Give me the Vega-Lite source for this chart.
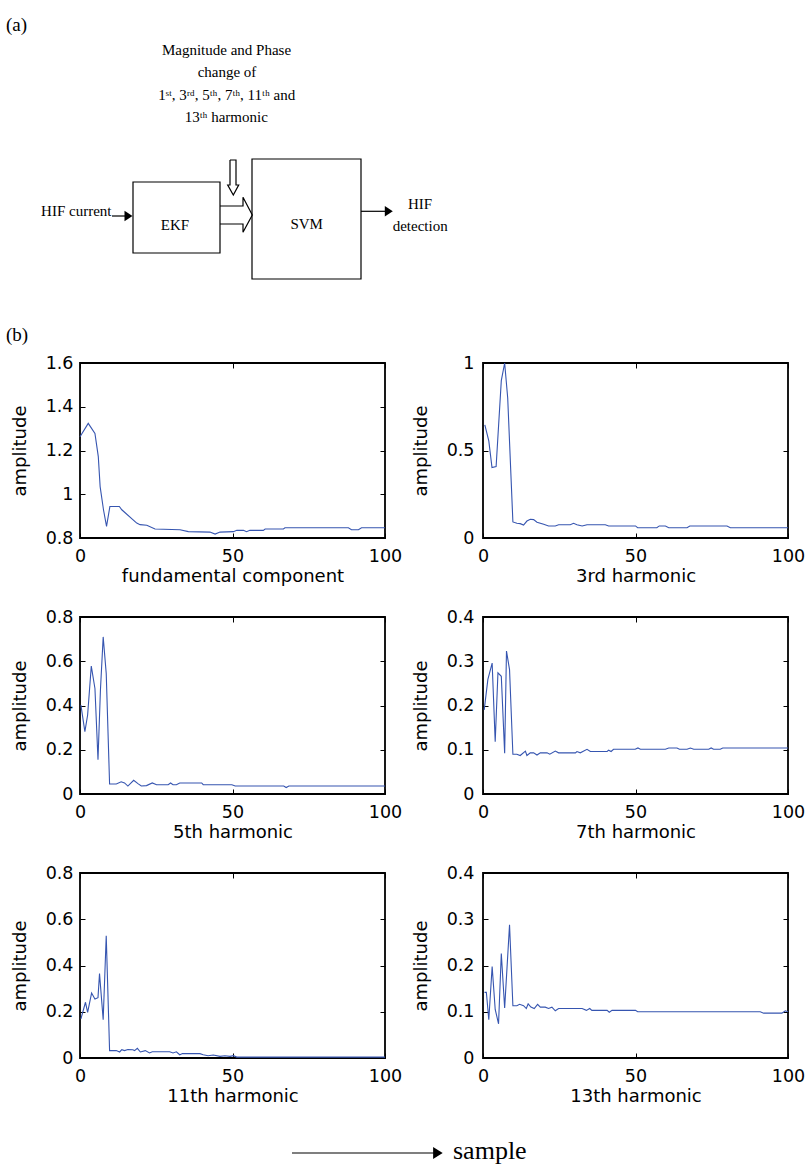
{
  "$schema": "https://vega.github.io/schema/vega-lite/v6.json",
  "padding": {"left": 6, "top": 0, "right": 0, "bottom": 0},
  "background": "white",
  "datasets": {
    "boxes": [
      {"name": "EKF", "x1": 133, "x2": 220, "y1": 182, "y2": 253},
      {"name": "SVM", "x1": 252, "x2": 361, "y1": 159, "y2": 279}
    ],
    "paths": [
      {"part": "in", "i": 0, "x": 112, "y": 216},
      {"part": "in", "i": 1, "x": 125.5, "y": 216},
      {"part": "out", "i": 0, "x": 361, "y": 211.3},
      {"part": "out", "i": 1, "x": 386, "y": 211.3},
      {"part": "big", "i": 0, "x": 220, "y": 206},
      {"part": "big", "i": 1, "x": 243, "y": 206},
      {"part": "big", "i": 2, "x": 243, "y": 197.3},
      {"part": "big", "i": 3, "x": 252.3, "y": 215},
      {"part": "big", "i": 4, "x": 243, "y": 232.3},
      {"part": "big", "i": 5, "x": 243, "y": 224},
      {"part": "big", "i": 6, "x": 220, "y": 224},
      {"part": "down", "i": 0, "x": 230, "y": 160},
      {"part": "down", "i": 1, "x": 230, "y": 185},
      {"part": "down", "i": 2, "x": 227.7, "y": 185},
      {"part": "down", "i": 3, "x": 233.3, "y": 195},
      {"part": "down", "i": 4, "x": 238.7, "y": 185},
      {"part": "down", "i": 5, "x": 236, "y": 185},
      {"part": "down", "i": 6, "x": 236, "y": 160},
      {"part": "down", "i": 7, "x": 230, "y": 160},
      {"part": "sample", "i": 0, "x": 292, "y": 1153},
      {"part": "sample", "i": 1, "x": 434, "y": 1153}
    ],
    "heads": [
      {"part": "in", "x": 128.5, "y": 216},
      {"part": "out", "x": 388.8, "y": 211.3}
    ],
    "samplehead": [{"x": 437.9, "y": 1153}],
    "notes": [
      {"label": "Magnitude and Phase", "x": 226.5, "y": 55},
      {"label": "change of", "x": 227, "y": 77},
      {"label": "1ˢᵗ, 3ʳᵈ, 5ᵗʰ, 7ᵗʰ, 11ᵗʰ and", "x": 226.7, "y": 100},
      {"label": "13ᵗʰ harmonic", "x": 226.3, "y": 121.5},
      {"label": "HIF current", "x": 76.3, "y": 216},
      {"label": "EKF", "x": 175, "y": 230},
      {"label": "SVM", "x": 306.7, "y": 229.3},
      {"label": "HIF", "x": 420, "y": 209.3},
      {"label": "detection", "x": 420.2, "y": 230.7}
    ],
    "panels": [
      {"label": "(a)", "x": 6, "y": 31},
      {"label": "(b)", "x": 6, "y": 341}
    ],
    "samplelabel": [{"label": "sample", "x": 453, "y": 1158.5}],
    "fund": [
      {"sample": 0, "amplitude": 1.263}, {"sample": 2.7, "amplitude": 1.324}, {"sample": 4.9, "amplitude": 1.278},
      {"sample": 6, "amplitude": 1.172}, {"sample": 6.6, "amplitude": 1.035}, {"sample": 7.7, "amplitude": 0.929},
      {"sample": 8.7, "amplitude": 0.853}, {"sample": 9.8, "amplitude": 0.944}, {"sample": 12.9, "amplitude": 0.944},
      {"sample": 13.7, "amplitude": 0.929}, {"sample": 18.6, "amplitude": 0.868}, {"sample": 19.7, "amplitude": 0.861},
      {"sample": 21.9, "amplitude": 0.858}, {"sample": 24.6, "amplitude": 0.841}, {"sample": 32.8, "amplitude": 0.838},
      {"sample": 35.5, "amplitude": 0.829}, {"sample": 42.6, "amplitude": 0.827}, {"sample": 44.3, "amplitude": 0.818},
      {"sample": 45.9, "amplitude": 0.827}, {"sample": 50.3, "amplitude": 0.829}, {"sample": 51.4, "amplitude": 0.835},
      {"sample": 53.6, "amplitude": 0.835}, {"sample": 54.6, "amplitude": 0.829}, {"sample": 55.7, "amplitude": 0.835},
      {"sample": 60.1, "amplitude": 0.835}, {"sample": 60.7, "amplitude": 0.841}, {"sample": 66.7, "amplitude": 0.841},
      {"sample": 67.2, "amplitude": 0.847}, {"sample": 88, "amplitude": 0.847}, {"sample": 89, "amplitude": 0.838},
      {"sample": 91.3, "amplitude": 0.838}, {"sample": 92.3, "amplitude": 0.847}, {"sample": 100, "amplitude": 0.847}
    ],
    "h3": [
      {"sample": 0.6, "amplitude": 0.647}, {"sample": 1.9, "amplitude": 0.555}, {"sample": 2.95, "amplitude": 0.403},
      {"sample": 4.3, "amplitude": 0.408}, {"sample": 6, "amplitude": 0.899}, {"sample": 7.1, "amplitude": 1.0},
      {"sample": 8.1, "amplitude": 0.8}, {"sample": 9.8, "amplitude": 0.092}, {"sample": 11.1, "amplitude": 0.084},
      {"sample": 12.2, "amplitude": 0.082}, {"sample": 13.3, "amplitude": 0.074}, {"sample": 14.4, "amplitude": 0.097},
      {"sample": 15.5, "amplitude": 0.107}, {"sample": 16.6, "amplitude": 0.105}, {"sample": 17.7, "amplitude": 0.09},
      {"sample": 19.9, "amplitude": 0.078}, {"sample": 21.5, "amplitude": 0.069}, {"sample": 23.7, "amplitude": 0.069},
      {"sample": 24.8, "amplitude": 0.076}, {"sample": 28.6, "amplitude": 0.076}, {"sample": 29.7, "amplitude": 0.084},
      {"sample": 30.8, "amplitude": 0.076}, {"sample": 32.5, "amplitude": 0.069}, {"sample": 34.1, "amplitude": 0.076},
      {"sample": 40.1, "amplitude": 0.076}, {"sample": 41.2, "amplitude": 0.069}, {"sample": 50, "amplitude": 0.069},
      {"sample": 50.7, "amplitude": 0.059}, {"sample": 57, "amplitude": 0.059}, {"sample": 57.8, "amplitude": 0.069},
      {"sample": 59.8, "amplitude": 0.069}, {"sample": 60.9, "amplitude": 0.059}, {"sample": 66.9, "amplitude": 0.059},
      {"sample": 67.8, "amplitude": 0.069}, {"sample": 80, "amplitude": 0.069}, {"sample": 81.1, "amplitude": 0.059},
      {"sample": 100, "amplitude": 0.059}
    ],
    "h5": [
      {"sample": 0.3, "amplitude": 0.402}, {"sample": 1.6, "amplitude": 0.282}, {"sample": 2.5, "amplitude": 0.357},
      {"sample": 3.7, "amplitude": 0.578}, {"sample": 4.9, "amplitude": 0.477}, {"sample": 5.9, "amplitude": 0.155},
      {"sample": 6.7, "amplitude": 0.47}, {"sample": 7.6, "amplitude": 0.71}, {"sample": 8.6, "amplitude": 0.545},
      {"sample": 9.7, "amplitude": 0.045}, {"sample": 11.9, "amplitude": 0.045}, {"sample": 13.5, "amplitude": 0.055},
      {"sample": 14.6, "amplitude": 0.05}, {"sample": 15.7, "amplitude": 0.036}, {"sample": 17.6, "amplitude": 0.062},
      {"sample": 19, "amplitude": 0.047}, {"sample": 20.1, "amplitude": 0.036}, {"sample": 21.8, "amplitude": 0.038},
      {"sample": 23.7, "amplitude": 0.05}, {"sample": 25.1, "amplitude": 0.042}, {"sample": 28.9, "amplitude": 0.042},
      {"sample": 29.7, "amplitude": 0.05}, {"sample": 30.5, "amplitude": 0.042}, {"sample": 31.6, "amplitude": 0.042},
      {"sample": 32.7, "amplitude": 0.05}, {"sample": 39.9, "amplitude": 0.05}, {"sample": 40.4, "amplitude": 0.042},
      {"sample": 49.8, "amplitude": 0.042}, {"sample": 50.9, "amplitude": 0.036}, {"sample": 66.8, "amplitude": 0.036},
      {"sample": 67.6, "amplitude": 0.029}, {"sample": 68.5, "amplitude": 0.036}, {"sample": 100, "amplitude": 0.036}
    ],
    "h7": [
      {"sample": 0.4, "amplitude": 0.19}, {"sample": 1.6, "amplitude": 0.259}, {"sample": 3, "amplitude": 0.296},
      {"sample": 4, "amplitude": 0.118}, {"sample": 4.9, "amplitude": 0.274}, {"sample": 6, "amplitude": 0.266},
      {"sample": 7.1, "amplitude": 0.092}, {"sample": 7.7, "amplitude": 0.323}, {"sample": 8.7, "amplitude": 0.281},
      {"sample": 9.8, "amplitude": 0.09}, {"sample": 11.1, "amplitude": 0.09}, {"sample": 12.2, "amplitude": 0.087},
      {"sample": 13.9, "amplitude": 0.097}, {"sample": 14.4, "amplitude": 0.087}, {"sample": 15.5, "amplitude": 0.093},
      {"sample": 16.6, "amplitude": 0.093}, {"sample": 17.7, "amplitude": 0.088}, {"sample": 18.8, "amplitude": 0.093},
      {"sample": 21, "amplitude": 0.093}, {"sample": 21.9, "amplitude": 0.09}, {"sample": 23.7, "amplitude": 0.097},
      {"sample": 24.8, "amplitude": 0.093}, {"sample": 30.3, "amplitude": 0.093}, {"sample": 30.8, "amplitude": 0.096},
      {"sample": 31.9, "amplitude": 0.093}, {"sample": 34.1, "amplitude": 0.101}, {"sample": 35.2, "amplitude": 0.096},
      {"sample": 40.7, "amplitude": 0.096}, {"sample": 41.2, "amplitude": 0.099}, {"sample": 42, "amplitude": 0.096},
      {"sample": 42.8, "amplitude": 0.101}, {"sample": 49.9, "amplitude": 0.101}, {"sample": 50.8, "amplitude": 0.104},
      {"sample": 51.6, "amplitude": 0.101}, {"sample": 59.8, "amplitude": 0.101}, {"sample": 60.9, "amplitude": 0.104},
      {"sample": 63.6, "amplitude": 0.104}, {"sample": 64.4, "amplitude": 0.101}, {"sample": 66.9, "amplitude": 0.101},
      {"sample": 68, "amplitude": 0.104}, {"sample": 69.1, "amplitude": 0.101}, {"sample": 74, "amplitude": 0.101},
      {"sample": 74.8, "amplitude": 0.104}, {"sample": 75.6, "amplitude": 0.101}, {"sample": 77.8, "amplitude": 0.101},
      {"sample": 78.6, "amplitude": 0.104}, {"sample": 100, "amplitude": 0.104}
    ],
    "h11": [
      {"sample": 0.3, "amplitude": 0.169}, {"sample": 1.8, "amplitude": 0.241}, {"sample": 2.5, "amplitude": 0.197},
      {"sample": 3.8, "amplitude": 0.281}, {"sample": 4.9, "amplitude": 0.255}, {"sample": 5.9, "amplitude": 0.261},
      {"sample": 6.4, "amplitude": 0.365}, {"sample": 7.6, "amplitude": 0.166}, {"sample": 8.6, "amplitude": 0.529},
      {"sample": 9.7, "amplitude": 0.032}, {"sample": 11.9, "amplitude": 0.032}, {"sample": 13, "amplitude": 0.026},
      {"sample": 13.7, "amplitude": 0.036}, {"sample": 14.6, "amplitude": 0.032}, {"sample": 15.7, "amplitude": 0.037},
      {"sample": 17.3, "amplitude": 0.036}, {"sample": 17.9, "amplitude": 0.032}, {"sample": 18.8, "amplitude": 0.042},
      {"sample": 19.8, "amplitude": 0.026}, {"sample": 21.4, "amplitude": 0.032}, {"sample": 22.8, "amplitude": 0.022},
      {"sample": 23.7, "amplitude": 0.027}, {"sample": 29.4, "amplitude": 0.027}, {"sample": 30.5, "amplitude": 0.022},
      {"sample": 31.6, "amplitude": 0.027}, {"sample": 32.7, "amplitude": 0.014}, {"sample": 33.6, "amplitude": 0.019},
      {"sample": 39.3, "amplitude": 0.019}, {"sample": 40.4, "amplitude": 0.014}, {"sample": 42, "amplitude": 0.01},
      {"sample": 43.7, "amplitude": 0.013}, {"sample": 45.9, "amplitude": 0.007}, {"sample": 47.5, "amplitude": 0.01},
      {"sample": 49.2, "amplitude": 0.007}, {"sample": 50.3, "amplitude": 0.01}, {"sample": 51.4, "amplitude": 0.004},
      {"sample": 100, "amplitude": 0.004}
    ],
    "h13": [
      {"sample": 0.5, "amplitude": 0.142}, {"sample": 1.1, "amplitude": 0.142}, {"sample": 1.9, "amplitude": 0.083},
      {"sample": 3, "amplitude": 0.198}, {"sample": 4, "amplitude": 0.105}, {"sample": 5.1, "amplitude": 0.074},
      {"sample": 6, "amplitude": 0.226}, {"sample": 7.1, "amplitude": 0.108}, {"sample": 8.7, "amplitude": 0.288},
      {"sample": 9.8, "amplitude": 0.113}, {"sample": 11.1, "amplitude": 0.113}, {"sample": 12, "amplitude": 0.116},
      {"sample": 13.3, "amplitude": 0.113}, {"sample": 14.2, "amplitude": 0.107}, {"sample": 14.8, "amplitude": 0.117},
      {"sample": 15.7, "amplitude": 0.11}, {"sample": 16.8, "amplitude": 0.107}, {"sample": 17.9, "amplitude": 0.116},
      {"sample": 18.8, "amplitude": 0.11}, {"sample": 20.4, "amplitude": 0.11}, {"sample": 21.5, "amplitude": 0.107},
      {"sample": 22.6, "amplitude": 0.11}, {"sample": 23.7, "amplitude": 0.102}, {"sample": 24.8, "amplitude": 0.107},
      {"sample": 32.5, "amplitude": 0.107}, {"sample": 33.9, "amplitude": 0.103}, {"sample": 35, "amplitude": 0.107},
      {"sample": 35.7, "amplitude": 0.103}, {"sample": 40.7, "amplitude": 0.103}, {"sample": 41.4, "amplitude": 0.099},
      {"sample": 42.3, "amplitude": 0.103}, {"sample": 50, "amplitude": 0.103}, {"sample": 50.7, "amplitude": 0.1},
      {"sample": 90.9, "amplitude": 0.1}, {"sample": 92, "amplitude": 0.097}, {"sample": 98, "amplitude": 0.097},
      {"sample": 99.1, "amplitude": 0.102}, {"sample": 100, "amplitude": 0.1}
    ]
  },
  "vconcat": [
    {
      "width": 728,
      "height": 363,
      "view": {"stroke": null},
      "layer": [
        {
          "data": {"name": "boxes"},
          "mark": {"type": "rect", "fill": "white", "stroke": "black", "strokeWidth": 1.2},
          "encoding": {
            "x": {"field": "x1", "type": "quantitative", "scale": {"domain": [80, 808], "nice": false, "zero": false}, "axis": null},
            "x2": {"field": "x2"},
            "y": {"field": "y1", "type": "quantitative", "scale": {"domain": [0, 363], "reverse": true, "nice": false, "zero": false}, "axis": null},
            "y2": {"field": "y2"}
          }
        },
        {
          "data": {"name": "paths"},
          "mark": {"type": "line", "color": "black", "strokeWidth": 1.2},
          "encoding": {
            "x": {"field": "x", "type": "quantitative", "scale": {"domain": [80, 808], "nice": false, "zero": false}, "axis": null},
            "y": {"field": "y", "type": "quantitative", "scale": {"domain": [0, 363], "reverse": true, "nice": false, "zero": false}, "axis": null},
            "detail": {"field": "part", "type": "nominal"},
            "order": {"field": "i", "type": "quantitative"}
          }
        },
        {
          "data": {"name": "heads"},
          "mark": {"type": "point", "shape": "M-0.76,-1L0.76,0L-0.76,1Z", "filled": true, "color": "black", "opacity": 1, "size": 110, "strokeWidth": 0},
          "encoding": {
            "x": {"field": "x", "type": "quantitative", "scale": {"domain": [80, 808], "nice": false, "zero": false}, "axis": null},
            "y": {"field": "y", "type": "quantitative", "scale": {"domain": [0, 363], "reverse": true, "nice": false, "zero": false}, "axis": null}
          }
        },
        {
          "data": {"name": "samplehead"},
          "mark": {"type": "point", "shape": "M-0.8,-1L0.8,0L-0.8,1Z", "filled": true, "color": "black", "opacity": 1, "size": 144, "strokeWidth": 0},
          "encoding": {
            "x": {"field": "x", "type": "quantitative", "scale": {"domain": [80, 808], "nice": false, "zero": false}, "axis": null},
            "y": {"field": "y", "type": "quantitative", "scale": {"domain": [0, 363], "reverse": true, "nice": false, "zero": false}, "axis": null}
          }
        },
        {
          "data": {"name": "notes"},
          "mark": {"type": "text", "font": "Liberation Serif", "fontSize": 15, "align": "center", "baseline": "alphabetic", "color": "black"},
          "encoding": {
            "x": {"field": "x", "type": "quantitative", "scale": {"domain": [80, 808], "nice": false, "zero": false}, "axis": null},
            "y": {"field": "y", "type": "quantitative", "scale": {"domain": [0, 363], "reverse": true, "nice": false, "zero": false}, "axis": null},
            "text": {"field": "label"}
          }
        },
        {
          "data": {"name": "panels"},
          "mark": {"type": "text", "font": "Liberation Serif", "fontSize": 19, "align": "left", "baseline": "alphabetic", "color": "black"},
          "encoding": {
            "x": {"field": "x", "type": "quantitative", "scale": {"domain": [80, 808], "nice": false, "zero": false}, "axis": null},
            "y": {"field": "y", "type": "quantitative", "scale": {"domain": [0, 363], "reverse": true, "nice": false, "zero": false}, "axis": null},
            "text": {"field": "label"}
          }
        },
        {
          "data": {"name": "samplelabel"},
          "mark": {"type": "text", "font": "Liberation Serif", "fontSize": 26, "align": "left", "baseline": "alphabetic", "color": "black"},
          "encoding": {
            "x": {"field": "x", "type": "quantitative", "scale": {"domain": [80, 808], "nice": false, "zero": false}, "axis": null},
            "y": {"field": "y", "type": "quantitative", "scale": {"domain": [0, 363], "reverse": true, "nice": false, "zero": false}, "axis": null},
            "text": {"field": "label"}
          }
        }
      ]
    },
    {
      "columns": 2,
      "spacing": {"row": 79, "column": 98},
      "bounds": "flush",
      "concat": [
        {
          "width": 305, "height": 175,
          "data": {"name": "fund"},
          "layer": [
            {
              "mark": {"type": "line", "color": "#3655b0", "strokeWidth": 1.1},
              "encoding": {
                "x": {"field": "sample", "type": "quantitative", "scale": {"domain": [0, 100], "nice": false, "zero": false}, "axis": {"values": [0, 50, 100], "title": "fundamental component", "format": "d"}},
                "y": {"field": "amplitude", "type": "quantitative", "scale": {"domain": [0.8, 1.6], "nice": false, "zero": false}, "axis": {"values": [0.8, 1, 1.2, 1.4, 1.6], "title": "amplitude", "format": "~g"}}
              }
            },
            {
              "mark": {"type": "point", "opacity": 0, "size": 1},
              "encoding": {
                "x": {"field": "sample", "type": "quantitative", "scale": {"domain": [0, 100], "nice": false, "zero": false}, "axis": {"orient": "top", "values": [0, 50, 100], "labels": false, "title": null}},
                "y": {"field": "amplitude", "type": "quantitative", "scale": {"domain": [0.8, 1.6], "nice": false, "zero": false}, "axis": {"orient": "right", "values": [0.8, 1, 1.2, 1.4, 1.6], "labels": false, "title": null}}
              }
            }
          ],
          "resolve": {"axis": {"x": "independent", "y": "independent"}}
        },
        {
          "width": 305, "height": 175,
          "data": {"name": "h3"},
          "layer": [
            {
              "mark": {"type": "line", "color": "#3655b0", "strokeWidth": 1.1},
              "encoding": {
                "x": {"field": "sample", "type": "quantitative", "scale": {"domain": [0, 100], "nice": false, "zero": false}, "axis": {"values": [0, 50, 100], "title": "3rd harmonic", "format": "d"}},
                "y": {"field": "amplitude", "type": "quantitative", "scale": {"domain": [0, 1], "nice": false, "zero": false}, "axis": {"values": [0, 0.5, 1], "title": "amplitude", "format": "~g", "labelPadding": 14}}
              }
            },
            {
              "mark": {"type": "point", "opacity": 0, "size": 1},
              "encoding": {
                "x": {"field": "sample", "type": "quantitative", "scale": {"domain": [0, 100], "nice": false, "zero": false}, "axis": {"orient": "top", "values": [0, 50, 100], "labels": false, "title": null}},
                "y": {"field": "amplitude", "type": "quantitative", "scale": {"domain": [0, 1], "nice": false, "zero": false}, "axis": {"orient": "right", "values": [0, 0.5, 1], "labels": false, "title": null}}
              }
            }
          ],
          "resolve": {"axis": {"x": "independent", "y": "independent"}}
        },
        {
          "width": 305, "height": 177,
          "data": {"name": "h5"},
          "layer": [
            {
              "mark": {"type": "line", "color": "#3655b0", "strokeWidth": 1.1},
              "encoding": {
                "x": {"field": "sample", "type": "quantitative", "scale": {"domain": [0, 100], "nice": false, "zero": false}, "axis": {"values": [0, 50, 100], "title": "5th harmonic", "format": "d"}},
                "y": {"field": "amplitude", "type": "quantitative", "scale": {"domain": [0, 0.8], "nice": false, "zero": false}, "axis": {"values": [0, 0.2, 0.4, 0.6, 0.8], "title": "amplitude", "format": "~g"}}
              }
            },
            {
              "mark": {"type": "point", "opacity": 0, "size": 1},
              "encoding": {
                "x": {"field": "sample", "type": "quantitative", "scale": {"domain": [0, 100], "nice": false, "zero": false}, "axis": {"orient": "top", "values": [0, 50, 100], "labels": false, "title": null}},
                "y": {"field": "amplitude", "type": "quantitative", "scale": {"domain": [0, 0.8], "nice": false, "zero": false}, "axis": {"orient": "right", "values": [0, 0.2, 0.4, 0.6, 0.8], "labels": false, "title": null}}
              }
            }
          ],
          "resolve": {"axis": {"x": "independent", "y": "independent"}}
        },
        {
          "width": 305, "height": 177,
          "data": {"name": "h7"},
          "layer": [
            {
              "mark": {"type": "line", "color": "#3655b0", "strokeWidth": 1.1},
              "encoding": {
                "x": {"field": "sample", "type": "quantitative", "scale": {"domain": [0, 100], "nice": false, "zero": false}, "axis": {"values": [0, 50, 100], "title": "7th harmonic", "format": "d"}},
                "y": {"field": "amplitude", "type": "quantitative", "scale": {"domain": [0, 0.4], "nice": false, "zero": false}, "axis": {"values": [0, 0.1, 0.2, 0.3, 0.4], "title": "amplitude", "format": "~g", "labelPadding": 14}}
              }
            },
            {
              "mark": {"type": "point", "opacity": 0, "size": 1},
              "encoding": {
                "x": {"field": "sample", "type": "quantitative", "scale": {"domain": [0, 100], "nice": false, "zero": false}, "axis": {"orient": "top", "values": [0, 50, 100], "labels": false, "title": null}},
                "y": {"field": "amplitude", "type": "quantitative", "scale": {"domain": [0, 0.4], "nice": false, "zero": false}, "axis": {"orient": "right", "values": [0, 0.1, 0.2, 0.3, 0.4], "labels": false, "title": null}}
              }
            }
          ],
          "resolve": {"axis": {"x": "independent", "y": "independent"}}
        },
        {
          "width": 305, "height": 185,
          "data": {"name": "h11"},
          "layer": [
            {
              "mark": {"type": "line", "color": "#3655b0", "strokeWidth": 1.1},
              "encoding": {
                "x": {"field": "sample", "type": "quantitative", "scale": {"domain": [0, 100], "nice": false, "zero": false}, "axis": {"values": [0, 50, 100], "title": "11th harmonic", "format": "d"}},
                "y": {"field": "amplitude", "type": "quantitative", "scale": {"domain": [0, 0.8], "nice": false, "zero": false}, "axis": {"values": [0, 0.2, 0.4, 0.6, 0.8], "title": "amplitude", "format": "~g"}}
              }
            },
            {
              "mark": {"type": "point", "opacity": 0, "size": 1},
              "encoding": {
                "x": {"field": "sample", "type": "quantitative", "scale": {"domain": [0, 100], "nice": false, "zero": false}, "axis": {"orient": "top", "values": [0, 50, 100], "labels": false, "title": null}},
                "y": {"field": "amplitude", "type": "quantitative", "scale": {"domain": [0, 0.8], "nice": false, "zero": false}, "axis": {"orient": "right", "values": [0, 0.2, 0.4, 0.6, 0.8], "labels": false, "title": null}}
              }
            }
          ],
          "resolve": {"axis": {"x": "independent", "y": "independent"}}
        },
        {
          "width": 305, "height": 185,
          "data": {"name": "h13"},
          "layer": [
            {
              "mark": {"type": "line", "color": "#3655b0", "strokeWidth": 1.1},
              "encoding": {
                "x": {"field": "sample", "type": "quantitative", "scale": {"domain": [0, 100], "nice": false, "zero": false}, "axis": {"values": [0, 50, 100], "title": "13th harmonic", "format": "d"}},
                "y": {"field": "amplitude", "type": "quantitative", "scale": {"domain": [0, 0.4], "nice": false, "zero": false}, "axis": {"values": [0, 0.1, 0.2, 0.3, 0.4], "title": "amplitude", "format": "~g", "labelPadding": 14}}
              }
            },
            {
              "mark": {"type": "point", "opacity": 0, "size": 1},
              "encoding": {
                "x": {"field": "sample", "type": "quantitative", "scale": {"domain": [0, 100], "nice": false, "zero": false}, "axis": {"orient": "top", "values": [0, 50, 100], "labels": false, "title": null}},
                "y": {"field": "amplitude", "type": "quantitative", "scale": {"domain": [0, 0.4], "nice": false, "zero": false}, "axis": {"orient": "right", "values": [0, 0.1, 0.2, 0.3, 0.4], "labels": false, "title": null}}
              }
            }
          ],
          "resolve": {"axis": {"x": "independent", "y": "independent"}}
        }
      ]
    }
  ],
  "spacing": 0,
  "bounds": "flush",
  "config": {
    "view": {"stroke": "black", "strokeWidth": 1.8},
    "axis": {
      "grid": false,
      "domain": false,
      "ticks": true,
      "tickSize": -5,
      "tickColor": "black",
      "tickWidth": 1,
      "labelFont": "DejaVu Sans",
      "labelFontSize": 17.5,
      "labelColor": "black",
      "labelFlush": false,
      "labelOverlap": false,
      "titleFont": "DejaVu Sans",
      "titleFontSize": 18,
      "titleFontWeight": "normal",
      "titleColor": "black"
    },
    "axisX": {"labelPadding": 14, "titlePadding": 3},
    "axisY": {"labelPadding": 12, "titlePadding": 16}
  }
}
